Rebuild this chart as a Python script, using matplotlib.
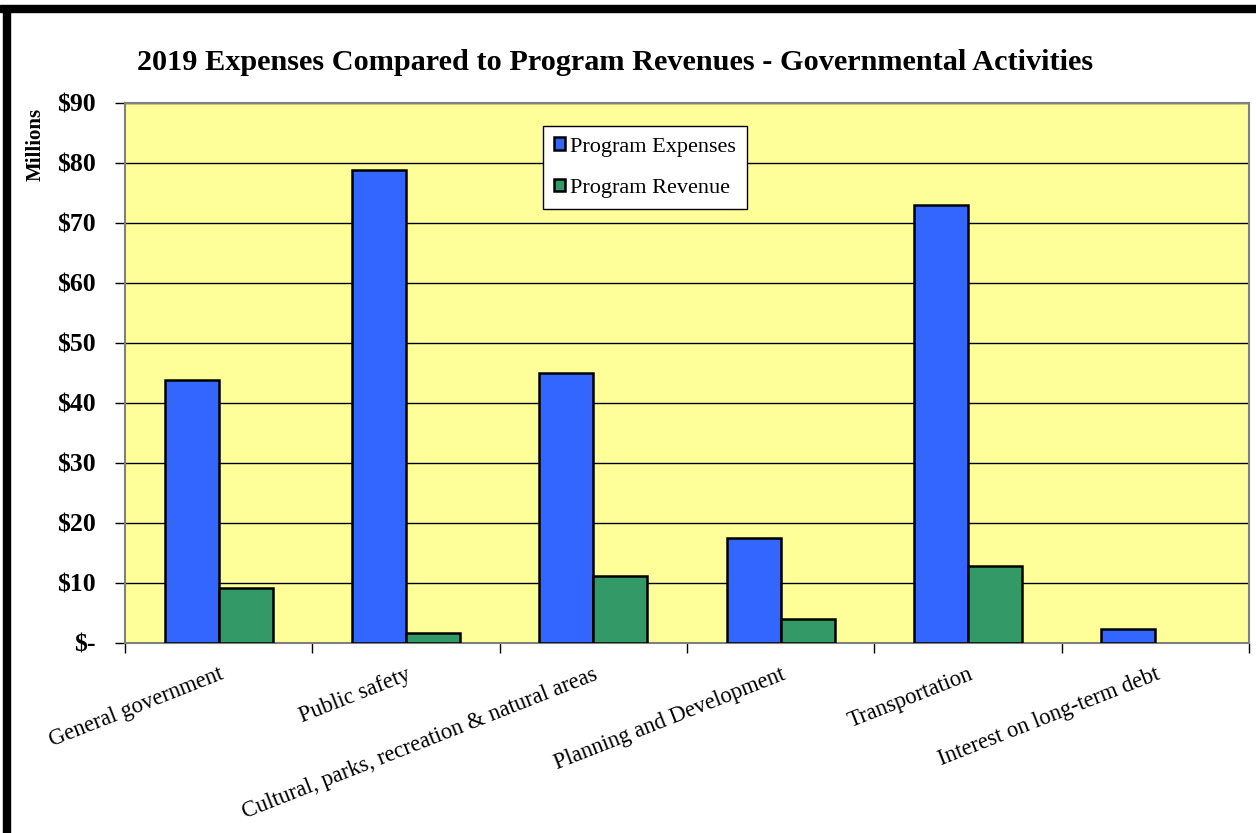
import numpy as np
import matplotlib.pyplot as plt
from matplotlib.patches import Rectangle
from matplotlib.ticker import FuncFormatter

# chart data (millions of dollars)
categories = ['General government', 'Public safety',
              'Cultural, parks, recreation & natural areas',
              'Planning and Development', 'Transportation',
              'Interest on long-term debt']
expenses = [43.9, 78.9, 45.0, 17.5, 73.0, 2.3]
revenue = [9.2, 1.7, 11.2, 4.0, 12.8, 0.0]
y_ticks = [0, 10, 20, 30, 40, 50, 60, 70, 80, 90]

plt.rcParams['font.family'] = ['Liberation Serif', 'DejaVu Serif']

fig = plt.figure(figsize=(12.56, 8.33), dpi=100)
ax = fig.add_axes([0.0995, 0.2281, 0.8949, 0.6483])
ax.set_facecolor('#FFFF99')

x = np.arange(len(categories))
w = 0.288
ax.bar(x - w / 2, expenses, w, color='#3366FF', edgecolor='black',
       linewidth=1.8, label='Program Expenses', zorder=3)
rev_x = [xi for xi, r in zip(x, revenue) if r > 0]
rev_v = [r for r in revenue if r > 0]
ax.bar(np.array(rev_x) + w / 2, rev_v, w, color='#339966', edgecolor='black',
       linewidth=1.8, label='Program Revenue', zorder=3)

ax.set_xlim(-0.5, len(categories) - 0.5)
ax.set_ylim(0, 90)
ax.set_yticks(y_ticks)
ax.yaxis.set_major_formatter(FuncFormatter(lambda v, p: '$-' if v == 0 else '${:.0f}'.format(v)))
ax.grid(axis='y', color='black', linewidth=1.0, zorder=1)
ax.tick_params(axis='y', direction='out', length=7, width=1, labelsize=18.5, pad=14)
for t in ax.get_yticklabels():
    t.set_fontweight('bold')

# ticks at category boundaries, labels at centers
ax.set_xticks(np.arange(len(categories) + 1) - 0.5)
ax.set_xticklabels([])
ax.tick_params(axis='x', direction='out', length=7, width=1)
ax.set_xticks(x, minor=True)
ax.set_xticklabels(categories, minor=True, rotation=21.5, ha='right',
                   rotation_mode='anchor', fontsize=16.3)
ax.tick_params(axis='x', which='minor', length=0, pad=15)

for s in ax.spines.values():
    s.set_color('#808080')
    s.set_linewidth(1.5)

fig.text(0.490, 0.925, '2019 Expenses Compared to Program Revenues - Governmental Activities',
         ha='center', va='center', fontsize=21.8, fontweight='bold')
fig.text(0.028, 0.827, 'Millions', rotation=90, ha='center', va='center',
         fontsize=15, fontweight='bold')

leg = ax.legend(loc='upper left', bbox_to_anchor=(0.372, 0.957), borderaxespad=0,
                fontsize=16, frameon=True, fancybox=False, framealpha=1,
                edgecolor='black', handlelength=0.5, handleheight=0.5,
                handletextpad=0.2, labelspacing=1.0, borderpad=0.5)
leg.get_frame().set_linewidth(1.0)
leg.set_zorder(5)

# black frame on top and left like the screenshot
fig.patches.append(Rectangle((0.0, 0.985), 1.0, 0.0095, transform=fig.transFigure,
                             color='black'))
fig.patches.append(Rectangle((0.0025, 0.0), 0.0055, 0.99, transform=fig.transFigure,
                             color='black'))

plt.savefig('out.png', dpi=100)
